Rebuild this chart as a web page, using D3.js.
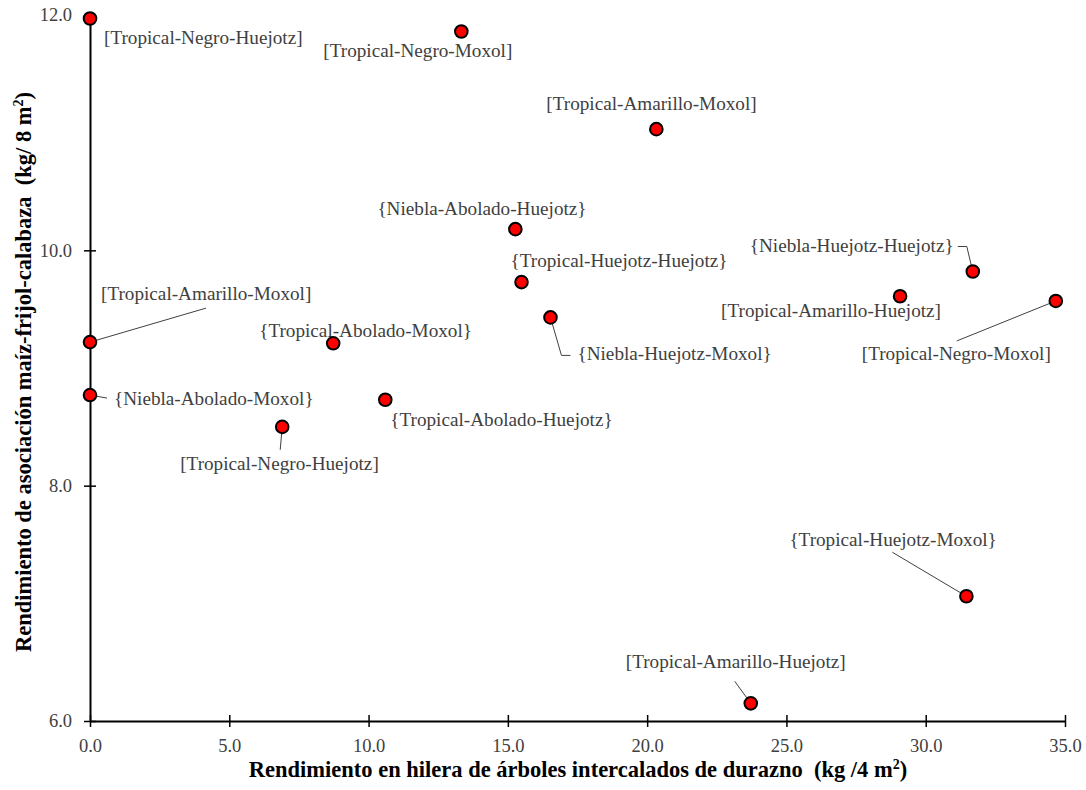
<!DOCTYPE html>
<html lang="es">
<head>
<meta charset="UTF-8">
<title>Rendimiento</title>
<script src="https://cdn.jsdelivr.net/npm/d3@7"></script>
<style>
    body { margin: 0; background: #fff; }
    svg text { font-family: "Liberation Serif", "Times New Roman", serif; }
</style>
</head>
<body>
<svg id="chart" width="1086" height="790"></svg>
<script>
    // data
    var labels = [
        "[Tropical-Negro-Huejotz]", "[Tropical-Negro-Moxol]", "[Tropical-Amarillo-Moxol]",
        "{Niebla-Abolado-Huejotz}", "{Tropical-Huejotz-Huejotz}", "{Niebla-Huejotz-Moxol}",
        "{Niebla-Huejotz-Huejotz}", "[Tropical-Amarillo-Huejotz]", "[Tropical-Negro-Moxol]",
        "[Tropical-Amarillo-Moxol]", "{Tropical-Abolado-Moxol}", "{Niebla-Abolado-Moxol}",
        "{Tropical-Abolado-Huejotz}", "[Tropical-Negro-Huejotz]", "{Tropical-Huejotz-Moxol}",
        "[Tropical-Amarillo-Huejotz]"
    ];
    var xValues = [0.0, 13.33, 20.33, 15.27, 15.49, 16.53, 31.69, 29.08, 34.67, 0.0, 8.73, 0.0, 10.6, 6.9, 31.46, 23.72];
    var yValues = [11.97, 11.86, 11.03, 10.18, 9.73, 9.43, 9.82, 9.61, 9.57, 9.22, 9.21, 8.77, 8.73, 8.5, 7.06, 6.15];
    var xTicks = [0, 5, 10, 15, 20, 25, 30, 35];
    var yTicks = [6, 8, 10, 12];

    // label placement (px from the point) and leader line bends
    var labelDx = [14, -138, -110, -138, -11, 27, -223, -179, -194, 11, -74, 24, 5, -102, -177, -125];
    var labelDy = [25, 26, -19, -14, -15, 43, -20, 21, 59, -42, -6, 10, 26, 43, -50, -35];
    var leaders = [
        null, null, null, null, null,
        [[11, 38], [20, 38]],
        [[-6, -25], [-15, -25]],
        null,
        [[-99, 40]],
        [[116, -34]],
        null,
        [[17, 3]],
        null,
        [[-2, 23]],
        [[-74, -44]],
        [[-16, -22]]
    ];

    var serif = "'Liberation Serif', 'Times New Roman', serif";
    var svg = d3.select("#chart").style("font-family", serif);
    var x = d3.scaleLinear().domain([0, 35]).range([90, 1065]);
    var y = d3.scaleLinear().domain([6, 12]).range([721, 15]);

    var xAxis = svg.append("g")
        .attr("transform", "translate(0," + y(6) + ")")
        .call(d3.axisBottom(x).tickValues(xTicks).tickSize(5).tickSizeOuter(0).tickFormat(d3.format(".1f")));
    xAxis.selectAll(".tick line").attr("y1", -6).attr("y2", 6);
    xAxis.selectAll(".tick text").attr("y", 18).attr("dy", "0.71em");

    var yAxis = svg.append("g")
        .attr("transform", "translate(" + x(0) + ",0)")
        .call(d3.axisLeft(y).tickValues(yTicks).tickSize(5).tickSizeOuter(0).tickFormat(d3.format(".1f")));
    yAxis.selectAll(".tick line").attr("x1", -6).attr("x2", 6);
    yAxis.selectAll(".tick text").attr("x", -18);

    svg.selectAll("g").attr("font-family", null);
    svg.selectAll(".domain").attr("stroke", "#000").attr("stroke-width", 2);
    svg.selectAll(".tick line").attr("stroke", "#000").attr("stroke-width", 1.5);
    svg.selectAll(".tick text")
        .attr("fill", "#404040")
        .style("font-size", "18.5px")
        .style("font-family", serif);

    // axis titles
    svg.append("text")
        .attr("x", 578).attr("y", 777)
        .attr("text-anchor", "middle")
        .style("font-size", "22.5px").style("font-weight", "bold").style("white-space", "pre")
        .html("Rendimiento en hilera de árboles intercalados de durazno  (kg /4 m<tspan dy='-8' font-size='14'>2</tspan><tspan dy='8'>)</tspan>");

    svg.append("text")
        .attr("transform", "translate(31,372) rotate(-90)")
        .attr("text-anchor", "middle")
        .style("font-size", "22.5px").style("font-weight", "bold").style("white-space", "pre")
        .html("Rendimiento de asociación maíz-frijol-calabaza  (kg/ 8 m<tspan dy='-8' font-size='14'>2</tspan><tspan dy='8'>)</tspan>");

    var pts = xValues.map(function (v, i) {
        return { x: v, y: yValues[i], label: labels[i], dx: labelDx[i], dy: labelDy[i], leader: leaders[i] };
    });

    // leader lines
    svg.append("g").selectAll("polyline")
        .data(pts.filter(function (d) { return d.leader; }))
        .enter().append("polyline")
        .attr("fill", "none")
        .attr("stroke", "#404040")
        .attr("stroke-width", 1)
        .attr("points", function (d) {
            var px = x(d.x), py = y(d.y);
            var p = [[px, py]].concat(d.leader.map(function (o) { return [px + o[0], py + o[1]]; }));
            return p.map(function (q) { return q.join(","); }).join(" ");
        });

    // labels
    svg.append("g").selectAll("text")
        .data(pts)
        .enter().append("text")
        .attr("x", function (d) { return x(d.x) + d.dx; })
        .attr("y", function (d) { return y(d.y) + d.dy; })
        .attr("fill", "#404040")
        .style("font-size", "19.2px")
        .text(function (d) { return d.label; });

    // points
    svg.append("g").selectAll("circle")
        .data(pts)
        .enter().append("circle")
        .attr("cx", function (d) { return x(d.x); })
        .attr("cy", function (d) { return y(d.y); })
        .attr("r", 6.3)
        .attr("fill", "#ff0000")
        .attr("stroke", "#000")
        .attr("stroke-width", 2);
</script>
</body>
</html>
